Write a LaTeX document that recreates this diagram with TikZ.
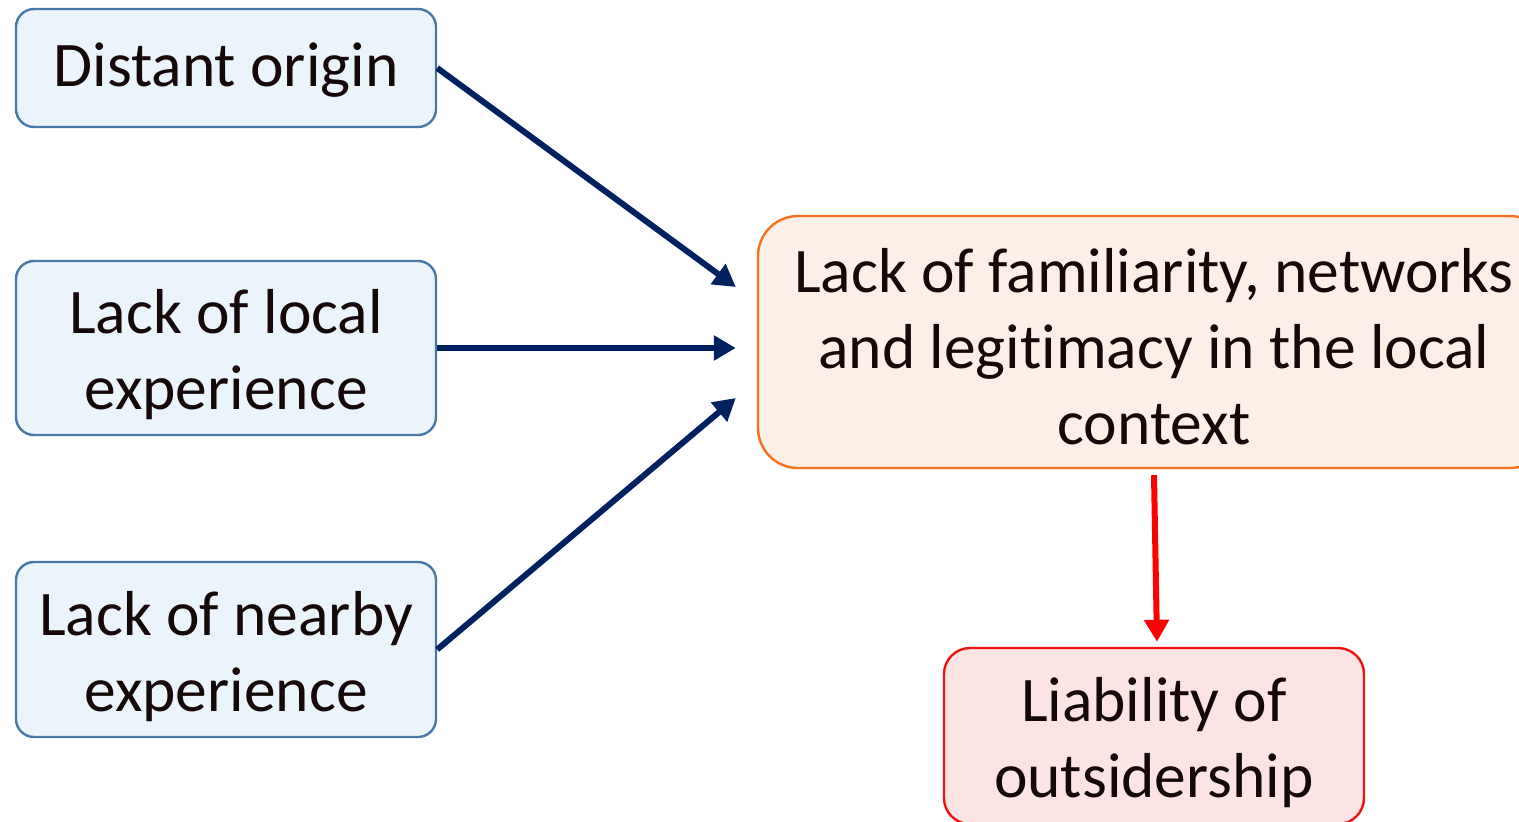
\documentclass[tikz,border=0pt]{standalone}
\usepackage{fontspec}
\setmainfont[Ligatures=NoCommon]{Carlito}
\usetikzlibrary{arrows.meta}
\definecolor{bluefill}{RGB}{235,243,251}
\definecolor{blueline}{RGB}{72,120,170}
\definecolor{orfill}{RGB}{251,240,232}
\definecolor{orline}{RGB}{246,112,30}
\definecolor{redfill}{RGB}{253,228,228}
\definecolor{redline}{RGB}{238,20,20}
\definecolor{navy}{RGB}{0,32,96}
\definecolor{txt}{RGB}{20,8,8}
\newcommand\lift[1]{\rule{0pt}{#1}}
\tikzset{
  box/.style={draw, line width=2.4pt, rounded corners=18pt, align=center, text=txt,
    font=\fontsize{63.5}{76}\selectfont, inner sep=0pt},
  bluebox/.style={box, draw=blueline, fill=bluefill, minimum width=420pt},
  orbox/.style={box, draw=orline, fill=orfill, rounded corners=40pt},
  redbox/.style={box, draw=redline, fill=redfill, rounded corners=26pt},
  navyarrow/.style={draw=navy, line width=6pt, -{Triangle[length=22pt,width=24pt]}},
  redarrow/.style={draw=red, line width=6pt, -{Triangle[length=22pt,width=24pt]}},
}
\begin{document}
\begin{tikzpicture}[x=1pt,y=-1pt]
\useasboundingbox (0,0) rectangle (1519,822);
\clip (0,0) rectangle (1519,822);
\node[bluebox, minimum height=118pt] (dist) at (226,68) {\lift{48pt}Distant origin};
\node[bluebox, minimum height=174pt] (local) at (226,348) {\lift{58pt}Lack of local\\experience};
\node[bluebox, minimum height=175pt] (near) at (226,649.5) {\lift{58pt}Lack of nearby\\experience};
\node[orbox, minimum width=792pt, minimum height=252pt] (org) at (1154,342)
  {\lift{54pt}Lack of familiarity, networks\\and legitimacy in the local\\context};
\node[redbox, minimum width=420pt, minimum height=176pt] (red) at (1154,736)
  {\lift{58pt}Liability of\\outsidership};
\draw[navyarrow] (dist.east) -- ([xshift=-21pt,yshift=55pt]org.west);
\draw[navyarrow] (local.east) -- ([xshift=-21pt,yshift=-6pt]org.west);
\draw[navyarrow] (near.east) -- ([xshift=-21pt,yshift=-56pt]org.west);
\draw[redarrow] ([yshift=-6pt]org.south) -- ([xshift=3pt,yshift=5pt]red.north);
\end{tikzpicture}
\end{document}
